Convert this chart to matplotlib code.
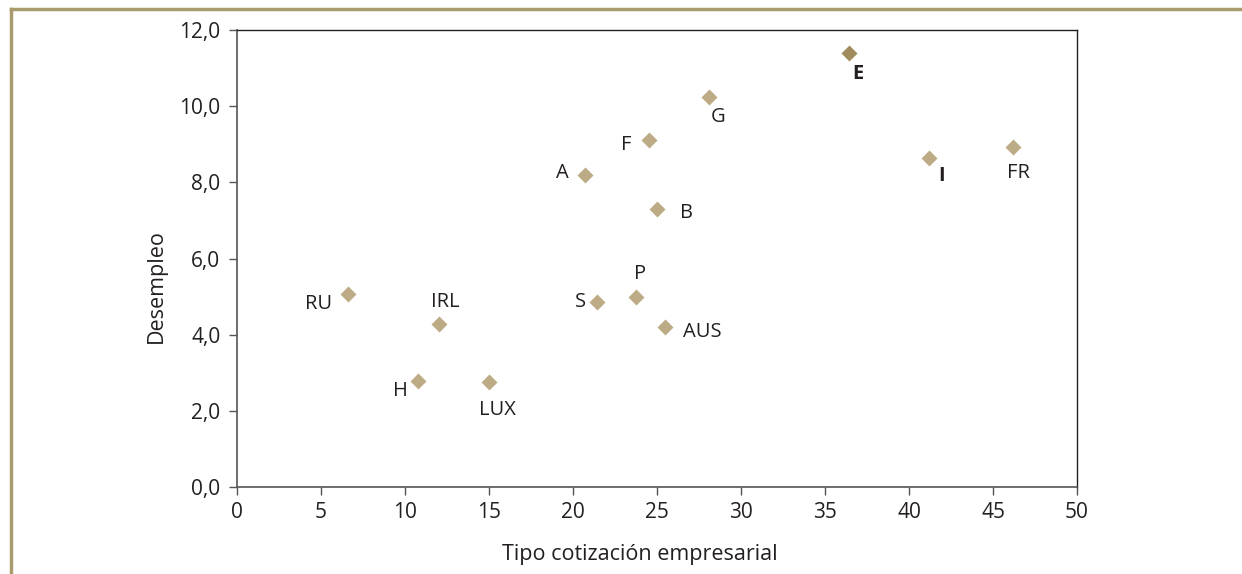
import matplotlib.pyplot as plt
from matplotlib.lines import Line2D

plt.rcParams['font.family'] = ['Open Sans', 'DejaVu Sans']

# data
countries = ["RU", "IRL", "H", "LUX", "S", "P", "AUS", "A", "F", "B", "G", "E", "I", "FR"]
tipo = [6.6, 12.0, 10.8, 15.0, 21.4, 23.75, 25.5, 20.7, 24.5, 25.0, 28.1, 36.4, 41.2, 46.2]
desempleo = [5.07, 4.28, 2.78, 2.76, 4.86, 4.99, 4.2, 8.19, 9.11, 7.3, 10.24, 11.4, 8.64, 8.93]

# label offsets in pixels (dx, dy), dy positive = down
offsets = {"RU": (-29, 10), "IRL": (7, -22), "H": (-18, 10), "LUX": (8, 28),
           "S": (-16, 0), "P": (4, -23), "AUS": (37, 5), "A": (-22, -2),
           "F": (-22, 5), "B": (30, 4), "G": (9, 20), "E": (9, 21),
           "I": (12, 18), "FR": (5, 26)}

fig = plt.figure(figsize=(12.42, 5.74), dpi=100)
ax = fig.add_axes([237/1242, 1 - 487/574, 840/1242, 457/574])

frame_col = "#a99b6d"
fig.add_artist(Line2D([11/1242, 11/1242], [0, 1 - 9/574], transform=fig.transFigure,
                      color=frame_col, lw=2.5))
fig.add_artist(Line2D([11/1242, 1], [1 - 9/574, 1 - 9/574], transform=fig.transFigure,
                      color=frame_col, lw=2.5))

for c, x, y in zip(countries, tipo, desempleo):
    col = "#a08c5c" if c == "E" else "#bcab85"
    ax.plot(x, y, marker="D", ms=8, color=col, mec="none", ls="none")
    dx, dy = offsets[c]
    ax.annotate(c, (x, y), xytext=(dx * 0.72, -dy * 0.72), textcoords="offset points",
                ha="center", va="center", fontsize=14.5, color="#231f20",
                fontweight="bold" if c in ("E", "I") else "normal")

ax.set_xlim(0, 50)
ax.set_ylim(0, 12)
ax.set_xticks(range(0, 51, 5))
ax.set_yticks([0, 2, 4, 6, 8, 10, 12])
ax.set_yticklabels(["0,0", "2,0", "4,0", "6,0", "8,0", "10,0", "12,0"])

for s in ["left", "bottom"]:
    ax.spines[s].set_color("#555555")
    ax.spines[s].set_linewidth(1.2)
for s in ["top", "right"]:
    ax.spines[s].set_color("#231f20")
    ax.spines[s].set_linewidth(1.0)

ax.tick_params(axis="both", direction="out", length=6, width=1, color="#555555",
               labelsize=15, labelcolor="#231f20")
ax.tick_params(axis="y", pad=6)
ax.tick_params(axis="x", pad=5)

ax.set_xlabel("Tipo cotización empresarial", fontsize=15.5, color="#231f20")
ax.set_ylabel("Desempleo", fontsize=15.5, color="#231f20")
ax.xaxis.set_label_coords(403/840, -57/457)
ax.yaxis.set_label_coords(-70/840, 0.44)

fig.savefig("out.png", dpi=100)
